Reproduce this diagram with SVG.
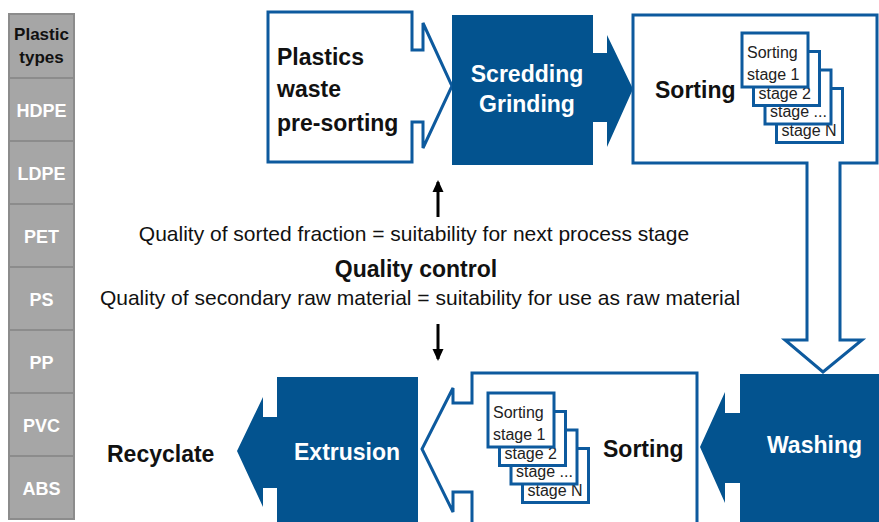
<svg xmlns="http://www.w3.org/2000/svg" width="879" height="522" viewBox="0 0 879 522">
<defs>
<style>
.cell{fill:#a6a6a6;stroke:#8c8c8c;stroke-width:2}
.ct{font-family:"Liberation Sans",Arial,sans-serif;font-weight:bold;font-size:18px;fill:#ffffff;text-anchor:middle}
.hd{font-family:"Liberation Sans",Arial,sans-serif;font-weight:bold;font-size:17px;fill:#111111;text-anchor:middle}
.outline{fill:#ffffff;stroke:#0d5a9e;stroke-width:3;stroke-linejoin:miter}
.solid{fill:#03538f}
.big{font-family:"Liberation Sans",Arial,sans-serif;font-weight:bold;font-size:23px;fill:#111111}
.bigw{font-family:"Liberation Sans",Arial,sans-serif;font-weight:bold;font-size:23px;fill:#ffffff}
.stg{fill:#ffffff;stroke:#0d5a9e;stroke-width:3}
.st{font-family:"Liberation Sans",Arial,sans-serif;font-size:16px;fill:#222222}
.q{font-family:"Liberation Sans",Arial,sans-serif;font-size:21px;fill:#111111;text-anchor:middle}
.qc{font-family:"Liberation Sans",Arial,sans-serif;font-weight:bold;font-size:23px;fill:#111111;text-anchor:middle}
.conn{stroke:#000000;stroke-width:3;fill:none}
</style>
<marker id="ah" viewBox="0 0 12 12" refX="10" refY="6" markerWidth="12" markerHeight="12" orient="auto" markerUnits="userSpaceOnUse">
<path d="M0,0.5 L12,6 L0,11.5 Z" fill="#000000"/>
</marker>
<g id="stack">
<g transform="translate(34.5,55.5)"><rect class="stg" width="66" height="54"/><text class="st" x="5" y="25">Sorting</text><text class="st" x="5" y="47">stage N</text></g>
<g transform="translate(23,37)"><rect class="stg" width="66" height="54"/><text class="st" x="5" y="25">Sorting</text><text class="st" x="5" y="47">stage ...</text></g>
<g transform="translate(11.5,18.5)"><rect class="stg" width="66" height="54"/><text class="st" x="5" y="25">Sorting</text><text class="st" x="5" y="47">stage 2</text></g>
<g><rect class="stg" width="66" height="54"/><text class="st" x="5" y="25">Sorting</text><text class="st" x="5" y="47">stage 1</text></g>
</g>
</defs>
<rect width="879" height="522" fill="#ffffff"/>

<g id="plastic-types">
<rect class="cell" x="9" y="14" width="65" height="64"/>
<text class="hd" x="41.5" y="40">Plastic</text>
<text class="hd" x="41.5" y="63">types</text>
<rect class="cell" x="9" y="78" width="65" height="63"/><text class="ct" x="41.5" y="117">HDPE</text>
<rect class="cell" x="9" y="141" width="65" height="63"/><text class="ct" x="41.5" y="180">LDPE</text>
<rect class="cell" x="9" y="204" width="65" height="63"/><text class="ct" x="41.5" y="243">PET</text>
<rect class="cell" x="9" y="267" width="65" height="63"/><text class="ct" x="41.5" y="306">PS</text>
<rect class="cell" x="9" y="330" width="65" height="63"/><text class="ct" x="41.5" y="369">PP</text>
<rect class="cell" x="9" y="393" width="65" height="63"/><text class="ct" x="41.5" y="432">PVC</text>
<rect class="cell" x="9" y="456" width="65" height="63"/><text class="ct" x="41.5" y="495">ABS</text>
</g>

<g id="pre-sorting">
<path class="outline" d="M268,12 H412 V50 H423 V23 L452,86 L423,148 V122 H412 V162 H268 Z"/>
<text class="big" x="277" y="65">Plastics</text>
<text class="big" x="277" y="97">waste</text>
<text class="big" x="277" y="131">pre-sorting</text>
</g>

<g id="shredding">
<path class="solid" d="M452,15 H593 V53 H607 V35 L633,89 L607,147 V122 H593 V165 H452 Z"/>
<text class="bigw" x="527" y="82" text-anchor="middle">Scredding</text>
<text class="bigw" x="527" y="112" text-anchor="middle">Grinding</text>
</g>

<g id="sorting-1">
<path class="outline" d="M633,15 H877 V163 H840 V340 H862 L823,372 L785,340 H807 V163 H633 Z"/>
<text class="big" x="655" y="98">Sorting</text>
<use href="#stack" x="742" y="33"/>
</g>

<g id="washing">
<path class="solid" d="M740,374 H879 V522 H740 V483 H725 V503 L700,447 L725,392 V413 H740 Z"/>
<text class="bigw" x="767" y="453">Washing</text>
</g>

<g id="sorting-2">
<path class="outline" d="M697,524 V373 H472 V403 H453 V388 L422,449 L453,512 V492 H472 V524"/>
<use href="#stack" x="488" y="393"/>
<text class="big" x="603" y="457">Sorting</text>
</g>

<g id="extrusion">
<path class="solid" d="M277,377 H418 V522 H277 V488 H263 V507 L237,451 L263,397 V417 H277 Z"/>
<text class="bigw" x="294" y="460">Extrusion</text>
</g>

<g id="recyclate">
<text class="big" x="107" y="462">Recyclate</text>
</g>

<g id="quality-control">
<text class="q" x="414" y="241">Quality of sorted fraction = suitability for next process stage</text>
<text class="qc" x="416" y="277">Quality control</text>
<text class="q" x="420" y="305">Quality of secondary raw material = suitability for use as raw material</text>
</g>

<g id="connectors">
<line class="conn" x1="438" y1="217" x2="438" y2="182" marker-end="url(#ah)"/>
<line class="conn" x1="438" y1="324" x2="438" y2="359" marker-end="url(#ah)"/>
</g>
</svg>
